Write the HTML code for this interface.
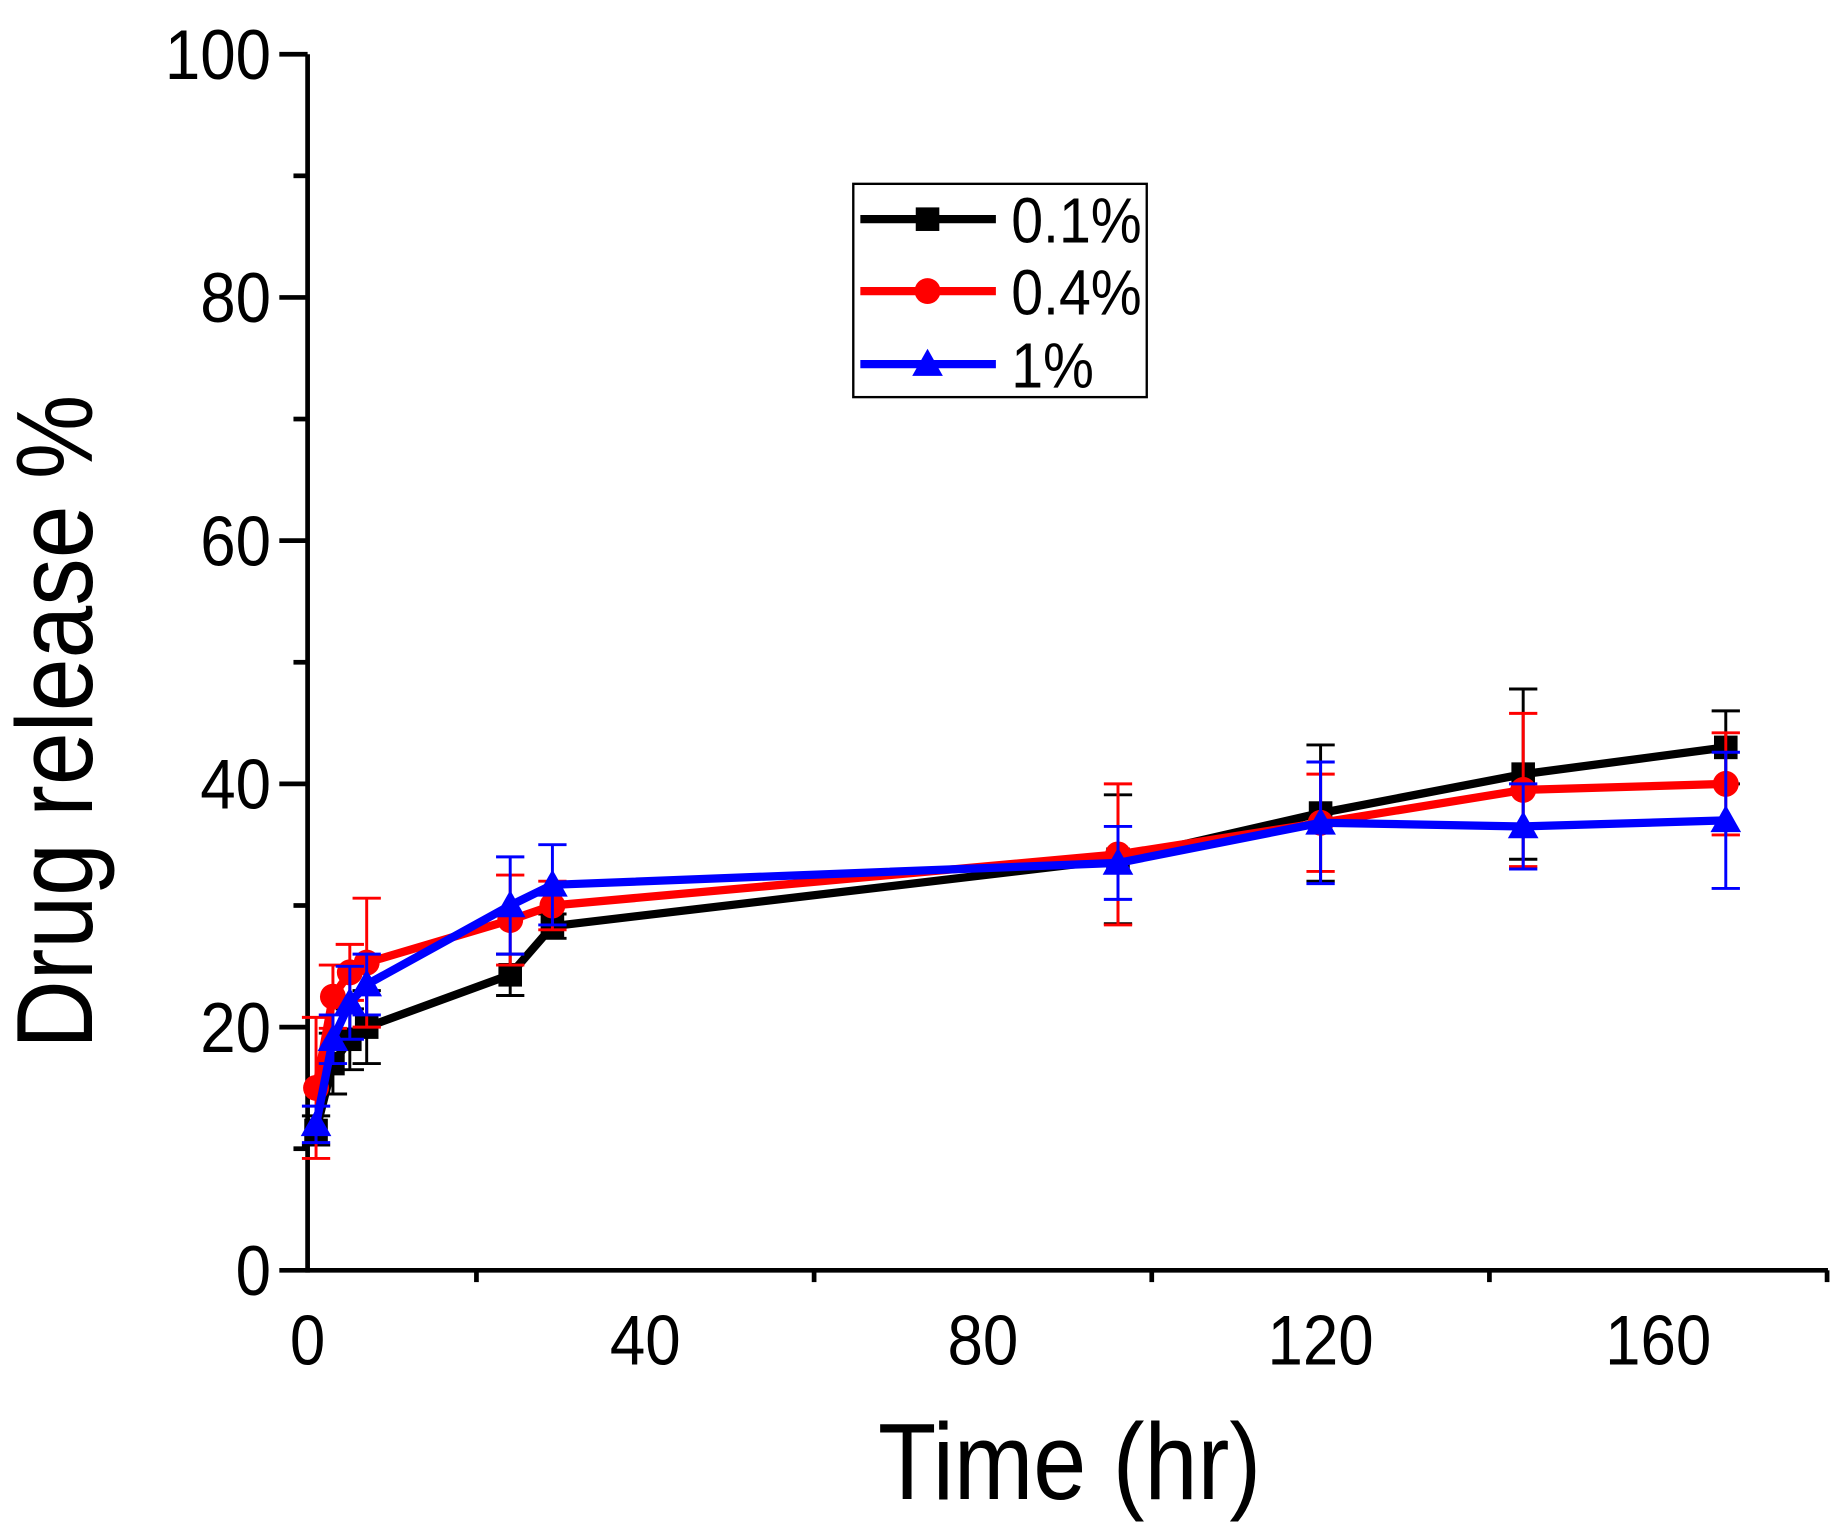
<!DOCTYPE html>
<html><head><meta charset="utf-8"><style>html,body{margin:0;padding:0;background:#fff}svg{display:block}</style></head>
<body>
<svg width="1848" height="1539" viewBox="0 0 1568 1306" preserveAspectRatio="none" xmlns="http://www.w3.org/2000/svg" font-family="'Liberation Sans', sans-serif">
<g id="axes"></g>
<g id="series"></g>
<g id="legend"></g>
</svg>
<script>
const times = [1, 3, 5, 7, 24, 29, 96, 120, 144, 168];
const s01 = [11.5, 17, 19, 20, 24.3, 28.3, 33.8, 37.6, 40.8, 43];
const s01err = [1.2, 2.5, 2.5, 3, 1.7, 1, 5.3, 5.6, 7, 3];
const s04 = [15, 22.5, 24.5, 25.3, 28.8, 30, 34.2, 36.8, 39.5, 40];
const s04err = [5.8, 2.6, 2.3, 5.3, 3.7, 2, 5.8, 4, 6.3, 4.2];
const s1 = [12, 19, 22, 23.5, 30, 31.7, 33.5, 36.8, 36.5, 37];
const s1err = [1.5, 2, 3, 2.5, 4, 3.3, 3, 5, 3.5, 5.6];
const xTicks = [0, 40, 80, 120, 160];
const yTicks = [0, 20, 40, 60, 80, 100];
const seriesNames = ["0.1%", "0.4%", "1%"];

const NS = "http://www.w3.org/2000/svg";
const X0 = 261, X1 = 1551, Y0 = 1078, Y1 = 46;
const xs = v => X0 + v * (1407 - 261) / 160;
const ys = v => Y0 - v * (Y0 - Y1) / 100;
function mk(tag, attrs, parent) {
  const e = document.createElementNS(NS, tag);
  for (const k in attrs) e.setAttribute(k, attrs[k]);
  parent.appendChild(e);
  return e;
}
const axes = document.getElementById('axes');
let l = mk('line', {x1: X0, y1: Y0, x2: X1, y2: Y0, stroke: '#000', 'stroke-width': 4}, axes);


l = mk('line', {x1: X0, y1: Y0 + 2, x2: X0, y2: Y1, stroke: '#000', 'stroke-width': 4}, axes);


for (let v = 0; v <= 180; v += 20) {
  const major = v % 40 === 0;
  const t = mk('line', {x1: xs(v), y1: Y0, x2: xs(v), y2: Y0 + (major ? 0 : 10), stroke: '#000', 'stroke-width': 4}, axes);
  
  
}
for (const v of xTicks) {
  const t = mk('text', {x: xs(v), y: 1158, 'font-size': 60, 'text-anchor': 'middle', transform: `translate(${xs(v)},0) scale(0.9,1) translate(${-xs(v)},0)`}, axes);
  t.textContent = v;
  
  
}
for (let v = 0; v <= 100; v += 10) {
  const major = v % 20 === 0;
  const t = mk('line', {x1: X0 - (major ? 24 : 12), y1: ys(v), x2: X0, y2: ys(v), stroke: '#000', 'stroke-width': 4}, axes);
  
  
}
for (const v of yTicks) {
  const t = mk('text', {x: 230, y: ys(v) + 21, 'font-size': 60, 'text-anchor': 'end', transform: 'translate(230,0) scale(0.9,1) translate(-230,0)'}, axes);
  t.textContent = v;
  
  
}
let tt = mk('text', {x: 745, y: 1272, 'font-size': 92, textLength: 325, lengthAdjust: 'spacingAndGlyphs'}, axes);
tt.textContent = 'Time (hr)';


tt = mk('text', {x: 0, y: 0, 'font-size': 92, textLength: 555, lengthAdjust: 'spacingAndGlyphs', transform: 'translate(78,890) rotate(-90)'}, axes);
tt.textContent = 'Drug release %';



const sg = document.getElementById('series');
const defs = [[s01, s01err, '#000', 'square'], [s04, s04err, '#f00', 'circle'], [s1, s1err, '#00f', 'triangle']];
function marker(shape, x, y, color, parent) {
  let m;
  if (shape === 'square') m = mk('rect', {x: x - 10, y: y - 10, width: 20, height: 20, fill: color}, parent);
  else if (shape === 'circle') m = mk('circle', {cx: x, cy: y, r: 11, fill: color}, parent);
  else m = mk('polygon', {points: `${x},${y - 13} ${x + 13},${y + 10} ${x - 13},${y + 10}`, fill: color}, parent);
  return m;
}
defs.forEach((d, si) => {
  const [vals, errs, color, shape] = d;
  const g = mk('g', {}, sg);
  
  
  times.forEach((t, i) => {
    const x = xs(t), yt = ys(vals[i] + errs[i]), yb = ys(vals[i] - errs[i]);
    const eb = mk('path', {d: `M${x},${yt}V${yb}M${x - 12},${yt}H${x + 12}M${x - 12},${yb}H${x + 12}`, stroke: color, 'stroke-width': 2.5, fill: 'none'}, g);
    
    
  });
  const pl = mk('polyline', {points: times.map((t, i) => xs(t) + ',' + ys(vals[i])).join(' '), stroke: color, 'stroke-width': 7, fill: 'none', 'stroke-linejoin': 'round'}, g);
  
  
  times.forEach((t, i) => {
    const m = marker(shape, xs(t), ys(vals[i]), color, g);
    
    
  });
});

const lg = document.getElementById('legend');


const box = mk('rect', {x: 724, y: 156, width: 249, height: 181, fill: '#fff', stroke: '#000', 'stroke-width': 2}, lg);


const ly = [186, 247, 309];
defs.forEach((d, si) => {
  const g = mk('g', {}, lg);
  
  
  mk('line', {x1: 730, y1: ly[si], x2: 845, y2: ly[si], stroke: d[2], 'stroke-width': 7}, g);
  marker(d[3], 787, ly[si], d[2], g);
  const t = mk('text', {x: 858, y: ly[si] + 20, 'font-size': 54, transform: 'translate(858,0) scale(0.9,1) translate(-858,0)'}, g);
  t.textContent = seriesNames[si];
});
</script>
</body></html>
